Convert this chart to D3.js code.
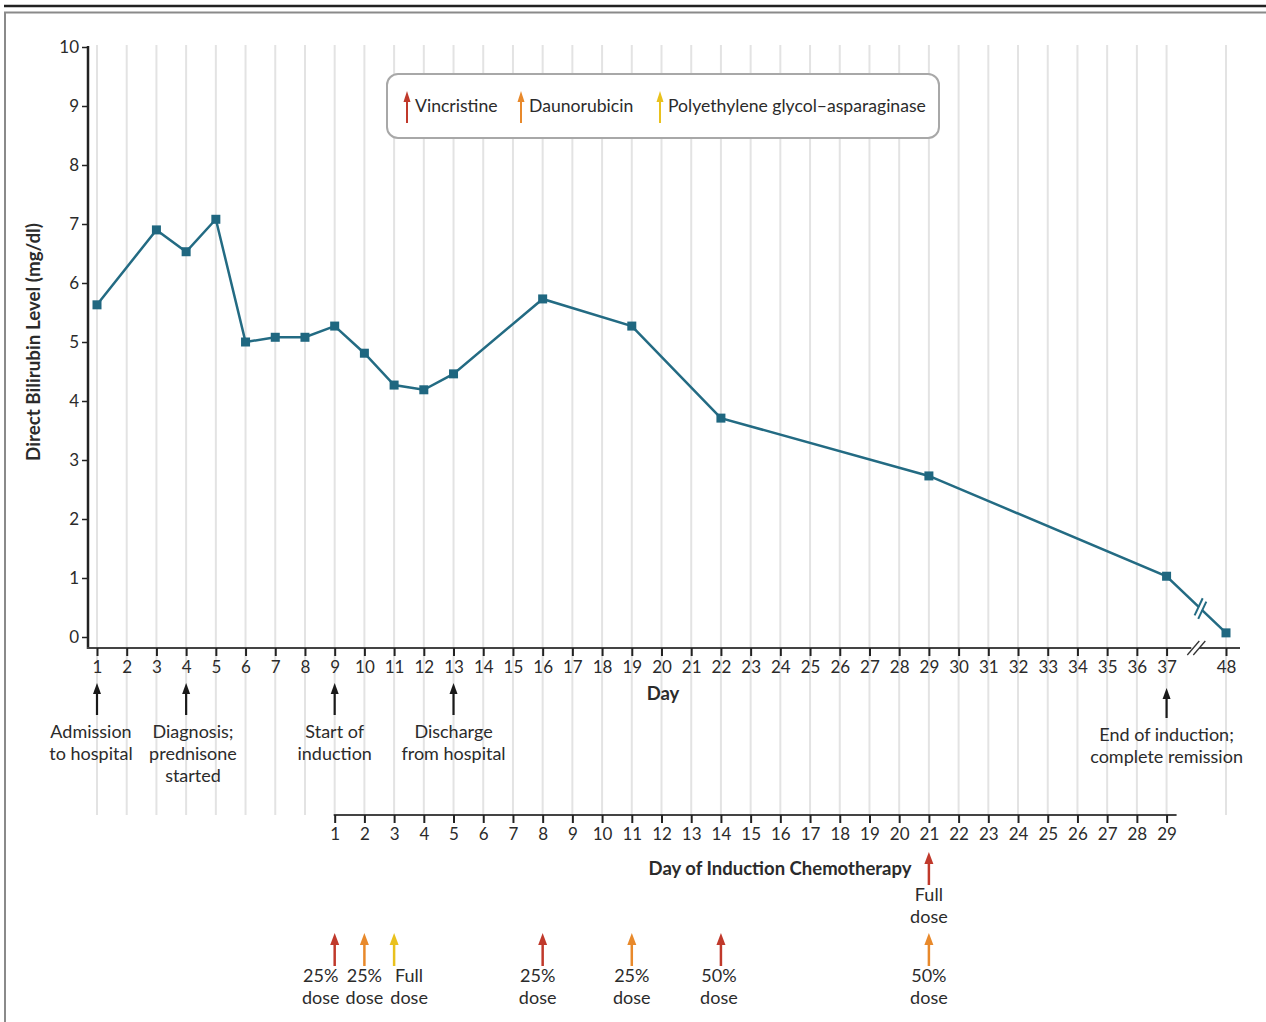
<!DOCTYPE html>
<html>
<head>
<meta charset="utf-8">
<script src="https://cdn.jsdelivr.net/npm/d3@7"></script>
<style>
  body { margin: 0; background: #fff; }
  text { font-family: Lato, "Open Sans", sans-serif; fill: #2b2b2b; }
</style>
</head>
<body>
<div id="graphic"></div>
<script>
// bilirubin measurements (study day, mg/dl)
const days = [1, 3, 4, 5, 6, 7, 8, 9, 10, 11, 12, 13, 16, 19, 22, 29, 37, 48]
const bilirubin = [5.63, 6.9, 6.53, 7.08, 5.0, 5.08, 5.08, 5.27, 4.81, 4.27, 4.19, 4.46, 5.73, 5.27, 3.71, 2.73, 1.03, 0.07]

// axis ticks
const dayTicks = d3.range(1, 38).concat([48])
const chemoTicks = d3.range(1, 30)
const yTicks = d3.range(0, 11)

// clinical milestones (study day, label lines)
const eventDays = [1, 4, 9, 13, 37]
const eventLabels = [["Admission", "to hospital"], ["Diagnosis;", "prednisone", "started"], ["Start of", "induction"], ["Discharge", "from hospital"], ["End of induction;", "complete remission"]]

// chemotherapy doses (day of induction chemotherapy)
const drugs = ["Vincristine", "Daunorubicin", "Polyethylene glycol\u2013asparaginase"]
const doseDays = [1, 2, 3, 8, 11, 14, 21, 21]
const doseDrug = ["Vincristine", "Daunorubicin", "Polyethylene glycol\u2013asparaginase", "Vincristine", "Daunorubicin", "Vincristine", "Vincristine", "Daunorubicin"]
const doseLabels = [["25%", "dose"], ["25%", "dose"], ["Full", "dose"], ["25%", "dose"], ["25%", "dose"], ["50%", "dose"], ["Full", "dose"], ["50%", "dose"]]
const doseRow = [0, 0, 0, 0, 0, 0, 1, 0]

const width = 1266, height = 1022

const svg = d3.select("#graphic")
    .append("svg")
    .attr("width", width)
    .attr("height", height)

// frame
svg.append("line")
    .attr("x1", 4).attr("x2", width).attr("y1", 6).attr("y2", 6)
    .attr("stroke", "#222").attr("stroke-width", 2.5)
svg.append("path")
    .attr("d", `M5,${height + 5}V12.5H${width + 5}`)
    .attr("fill", "none").attr("stroke", "#8a8a8a").attr("stroke-width", 2)

const color = d3.scaleOrdinal()
    .domain(drugs)
    .range(["#c0392b", "#e8892b", "#e9c11d"])

// day 48 sits two slots after day 37 (axis break)
const slots = d3.range(1, 38).map(String).concat(["gap", "48"])
const xs = d3.scalePoint().domain(slots).range([97, 1226])
const x = d => xs(String(d))
const xc = d => x(d + 8)

const y = d3.scaleLinear().domain([0, 10]).range([637, 47])

const axisY = 648, chemoY = 815

// gridlines
svg.append("g")
    .selectAll("line")
    .data(dayTicks)
    .join("line")
    .attr("x1", d => x(d)).attr("x2", d => x(d))
    .attr("y1", 45).attr("y2", chemoY)
    .attr("stroke", "#e3e3e3").attr("stroke-width", 2)

// y axis
const yAxis = svg.append("g")
    .attr("transform", "translate(88,0)")
    .call(d3.axisLeft(y).tickValues(yTicks).tickSize(6).tickSizeOuter(0).tickPadding(3))
yAxis.select(".domain").remove()
yAxis.selectAll("line").attr("stroke", "#222").attr("stroke-width", 1.5)
yAxis.selectAll("text").attr("font-size", 17).attr("fill", "#2b2b2b").attr("font-family", "Lato")
svg.append("line")
    .attr("x1", 88).attr("x2", 88).attr("y1", 46).attr("y2", axisY + 1)
    .attr("stroke", "#222").attr("stroke-width", 2.5)

svg.append("text")
    .attr("transform", `translate(40,342) rotate(-90)`)
    .attr("text-anchor", "middle")
    .attr("font-size", 18.8).attr("font-weight", "bold")
    .text("Direct Bilirubin Level (mg/dl)")

// x axis (study day)
svg.append("line")
    .attr("x1", 87).attr("x2", 1240).attr("y1", axisY).attr("y2", axisY)
    .attr("stroke", "#444").attr("stroke-width", 2)
const xAxis = svg.append("g")
    .attr("transform", `translate(0,${axisY})`)
    .call(d3.axisBottom(xs).tickValues(dayTicks.map(String)).tickSize(8).tickSizeOuter(0).tickPadding(5))
xAxis.select(".domain").remove()
xAxis.selectAll("line").attr("stroke", "#222").attr("stroke-width", 2)
xAxis.selectAll("text").attr("font-size", 17).attr("fill", "#2b2b2b").attr("font-family", "Lato")

// axis break marks
const bx = x(37) + (x(48) - x(37)) / 2
svg.append("rect").attr("x", bx - 5).attr("y", axisY - 3).attr("width", 8).attr("height", 6).attr("fill", "#fff")
svg.append("g").selectAll("line").data([-3, 3]).join("line")
    .attr("x1", d => bx + d - 6).attr("y1", axisY + 7)
    .attr("x2", d => bx + d + 6).attr("y2", axisY - 7)
    .attr("stroke", "#333").attr("stroke-width", 1.3)

svg.append("text")
    .attr("x", 663).attr("y", 700)
    .attr("text-anchor", "middle")
    .attr("font-size", 18.5).attr("font-weight", "bold")
    .text("Day")

// chemo axis
svg.append("line")
    .attr("x1", xc(1) - 1).attr("x2", xc(29) + 10).attr("y1", chemoY).attr("y2", chemoY)
    .attr("stroke", "#444").attr("stroke-width", 2)
const cAxis = svg.append("g")
    .attr("transform", `translate(0,${chemoY})`)
    .call(d3.axisBottom(d3.scaleLinear().domain([1, 29]).range([xc(1), xc(29)]))
        .tickValues(chemoTicks).tickFormat(d3.format("d")).tickSize(8).tickSizeOuter(0).tickPadding(5))
cAxis.select(".domain").remove()
cAxis.selectAll("line").attr("stroke", "#222").attr("stroke-width", 2)
cAxis.selectAll("text").attr("font-size", 17).attr("fill", "#2b2b2b").attr("font-family", "Lato")

svg.append("text")
    .attr("x", 780).attr("y", 875)
    .attr("text-anchor", "middle")
    .attr("font-size", 18.5).attr("font-weight", "bold")
    .text("Day of Induction Chemotherapy")

// arrow helper
function arrow(g, cx, top, bottom, fill, shaft, headW, headH) {
    g.append("line")
        .attr("x1", cx).attr("x2", cx).attr("y1", top + headH - 1).attr("y2", bottom)
        .attr("stroke", fill).attr("stroke-width", shaft)
    g.append("path")
        .attr("d", `M${cx},${top}L${cx + headW / 2},${top + headH}L${cx - headW / 2},${top + headH}Z`)
        .attr("fill", fill)
}

// milestone arrows and labels
const ev = svg.append("g")
eventDays.forEach((d, i) => {
    const last = d === 37
    arrow(ev, x(d), last ? 688 : 683, last ? 718 : 715, "#1a1a1a", 2.2, 8, 11)
    const t = ev.append("text")
        .attr("text-anchor", "middle")
        .attr("font-size", 18)
    const cx = d === 1 ? 91 : d === 4 ? 193 : x(d)
    eventLabels[i].forEach((s, j) => {
        t.append("tspan").attr("x", cx).attr("y", (last ? 741 : 738) + j * 22).text(s)
    })
})

// dose arrows
const doseShift = [-14, 0, 15, -5, 0, -2, 0, 0]
const ds = svg.append("g")
doseDays.forEach((d, i) => {
    const top = doseRow[i] ? 852 : 933
    arrow(ds, xc(d), top, top + 33, color(doseDrug[i]), 2.5, 9, 12)
    const t = ds.append("text")
        .attr("text-anchor", "middle")
        .attr("font-size", 18)
    doseLabels[i].forEach((s, j) => {
        t.append("tspan").attr("x", xc(d) + doseShift[i]).attr("y", top + 49 + j * 22).text(s)
    })
})

// bilirubin line
const pts = days.map((d, i) => [x(d), y(bilirubin[i])])
svg.append("path")
    .datum(pts)
    .attr("d", d3.line())
    .attr("fill", "none")
    .attr("stroke", "#236b83")
    .attr("stroke-width", 2.5)

// break on the line between day 37 and 48
const p0 = pts[pts.length - 2], p1 = pts[pts.length - 1]
const mx = p0[0] + (p1[0] - p0[0]) * 0.57, my = p0[1] + (p1[1] - p0[1]) * 0.57
const ang = Math.atan2(p1[1] - p0[1], p1[0] - p0[0]) * 180 / Math.PI
const brk = svg.append("g").attr("transform", `translate(${mx},${my}) rotate(${ang})`)
brk.append("rect").attr("x", -2).attr("y", -4).attr("width", 4).attr("height", 8).attr("fill", "#fff")
brk.selectAll("line").data([-2.5, 2.5]).join("line")
    .attr("x1", d => d - 3).attr("x2", d => d + 3)
    .attr("y1", -9).attr("y2", 9)
    .attr("stroke", "#236b83").attr("stroke-width", 2)

svg.append("g")
    .selectAll("rect")
    .data(pts)
    .join("rect")
    .attr("x", d => d[0] - 4.5).attr("y", d => d[1] - 4.5)
    .attr("width", 9).attr("height", 9)
    .attr("fill", "#1f6780")

// legend
const lg = svg.append("g")
lg.append("rect")
    .attr("x", 387).attr("y", 74).attr("width", 552).attr("height", 64).attr("rx", 11)
    .attr("fill", "#fff").attr("stroke", "#a8a8a8").attr("stroke-width", 2)
const legX = [407, 521, 660]
drugs.forEach((k, i) => {
    arrow(lg, legX[i], 91, 123, color(k), 2, 7, 11)
    lg.append("text")
        .attr("x", legX[i] + 8).attr("y", 112)
        .attr("font-size", 17.6)
        .text(k)
})
</script>
</body>
</html>
